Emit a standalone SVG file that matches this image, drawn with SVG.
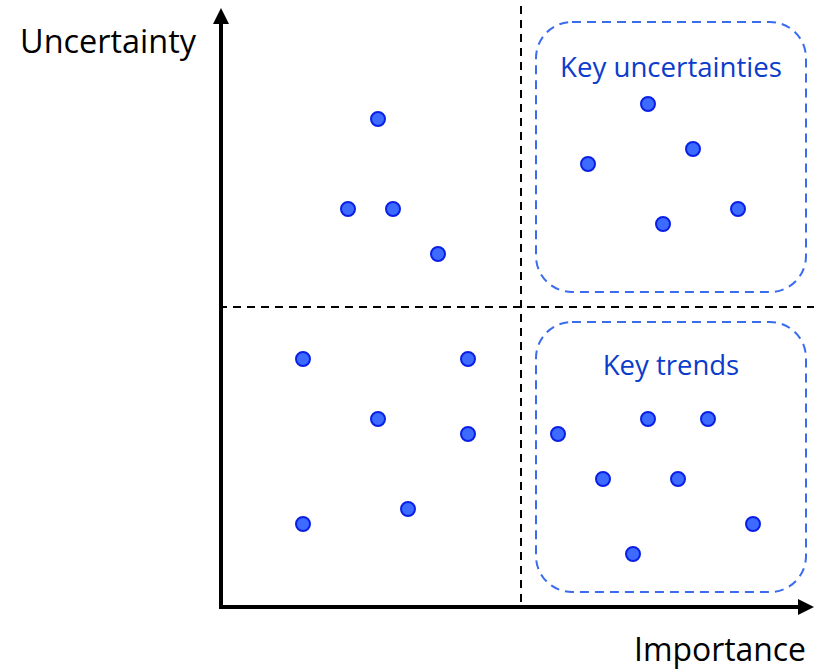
<svg xmlns="http://www.w3.org/2000/svg" width="814" height="669" viewBox="0 0 814 669">
<style>
.dot{fill:#3d6bff;stroke:#0a1fe6;stroke-width:2}
.box{fill:none;stroke:#3a6cf0;stroke-width:2;stroke-dasharray:9,6}
.grid{stroke:#000;stroke-width:2;stroke-dasharray:8,6}
.axis{stroke:#000;stroke-width:4}
.lbl{font-family:"Open Sans","Noto Sans",sans-serif;font-size:32px}
.blbl{font-family:"Open Sans","Noto Sans",sans-serif;font-size:27.5px;fill:#0b3ccc}
</style>
<rect width="814" height="669" fill="#fff"/>
<g id="connectors">
<line class="grid" x1="521" y1="6" x2="521" y2="606"/>
<line class="grid" x1="219" y1="307" x2="814" y2="307"/>
<line class="axis" x1="221" y1="609" x2="221" y2="22"/>
<polygon points="221,8 213,24 229,24" fill="#000"/>
<line class="axis" x1="219" y1="607" x2="800" y2="607"/>
<polygon points="814,607 798,599 798,615" fill="#000"/>
</g>
<g id="axis-labels">
<text class="lbl" x="20" y="53" textLength="176" lengthAdjust="spacingAndGlyphs">Uncertainty</text>
<text class="lbl" x="634" y="661" textLength="172" lengthAdjust="spacingAndGlyphs">Importance</text>
</g>
<g id="key-uncertainties">
<rect class="box" x="536" y="22" width="270" height="270" rx="36"/>
<text class="blbl" x="560" y="77" textLength="222" lengthAdjust="spacingAndGlyphs">Key uncertainties</text>
</g>
<g id="key-trends">
<rect class="box" x="536" y="322" width="270" height="270" rx="36"/>
<text class="blbl" x="671" y="375" text-anchor="middle">Key trends</text>
</g>
<g id="dots">
<circle class="dot" cx="378" cy="119" r="7"/>
<circle class="dot" cx="348" cy="209" r="7"/>
<circle class="dot" cx="393" cy="209" r="7"/>
<circle class="dot" cx="438" cy="254" r="7"/>
<circle class="dot" cx="648" cy="104" r="7"/>
<circle class="dot" cx="588" cy="164" r="7"/>
<circle class="dot" cx="693" cy="149" r="7"/>
<circle class="dot" cx="738" cy="209" r="7"/>
<circle class="dot" cx="663" cy="224" r="7"/>
<circle class="dot" cx="303" cy="359" r="7"/>
<circle class="dot" cx="468" cy="359" r="7"/>
<circle class="dot" cx="378" cy="419" r="7"/>
<circle class="dot" cx="468" cy="434" r="7"/>
<circle class="dot" cx="408" cy="509" r="7"/>
<circle class="dot" cx="303" cy="524" r="7"/>
<circle class="dot" cx="558" cy="434" r="7"/>
<circle class="dot" cx="648" cy="419" r="7"/>
<circle class="dot" cx="708" cy="419" r="7"/>
<circle class="dot" cx="603" cy="479" r="7"/>
<circle class="dot" cx="678" cy="479" r="7"/>
<circle class="dot" cx="753" cy="524" r="7"/>
<circle class="dot" cx="633" cy="554" r="7"/>
</g>
</svg>
